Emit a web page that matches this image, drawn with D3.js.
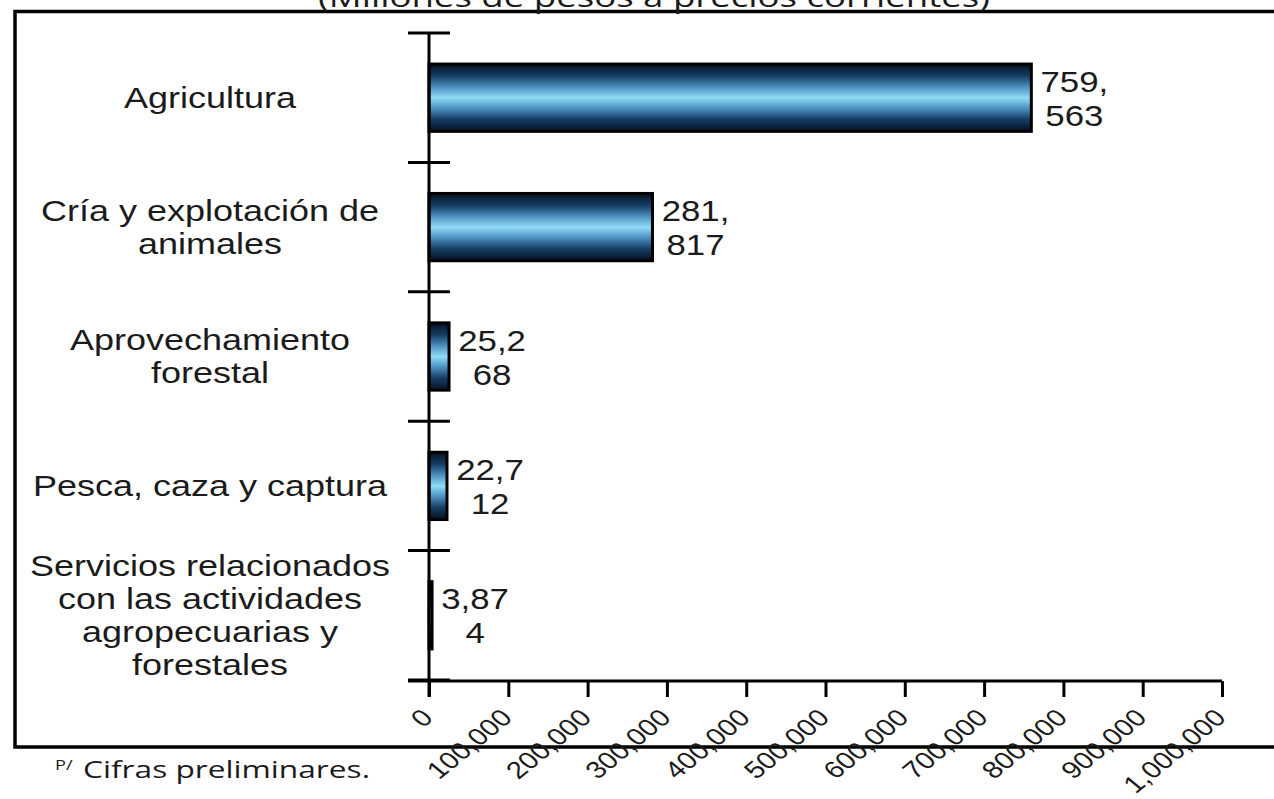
<!DOCTYPE html>
<html>
<head>
<meta charset="utf-8">
<script src="https://cdn.jsdelivr.net/npm/d3@7/dist/d3.min.js"></script>
<style>
  html, body { margin: 0; padding: 0; background: #fff; }
  svg { display: block; }
</style>
</head>
<body>
<svg id="chart" width="1274" height="799"></svg>
<script>
// ---- data ----
const categories = [
  ["Agricultura"],
  ["Cría y explotación de", "animales"],
  ["Aprovechamiento", "forestal"],
  ["Pesca, caza y captura"],
  ["Servicios relacionados", "con las actividades", "agropecuarias y", "forestales"]
];
const values = [759563, 281817, 25268, 22712, 3874];
const xTicks = [0, 100000, 200000, 300000, 400000, 500000, 600000, 700000, 800000, 900000, 1000000];
const titleText = "(Millones de pesos a precios corrientes)";
const footnoteMark = "P/";
const footnoteText = "Cifras preliminares.";

// ---- layout ----
const svg = d3.select("#chart");
const ink = "#1b1b1b";
const x = d3.scaleLinear().domain([0, 1000000]).range([429, 1222]);
const keys = categories.map((c, i) => i);
const y = d3.scaleBand().domain(keys).range([33, 680]).paddingInner(0.48).paddingOuter(0.24);
const step = y.step();
const bandStart = i => y(i) - y.paddingOuter() * step;

// gradient
const defs = svg.append("defs");
const grad = defs.append("linearGradient").attr("id", "barGrad")
  .attr("x1", 0).attr("y1", 0).attr("x2", 0).attr("y2", 1);
[[0, "#06101f"], [0.18, "#163e66"], [0.35, "#4f95c4"], [0.5, "#90dbf6"], [0.65, "#4f95c4"], [0.82, "#163e66"], [1, "#06101f"]]
  .forEach(([o, c]) => grad.append("stop").attr("offset", o).attr("stop-color", c));

// outer border (right side runs off the picture)
svg.append("path")
  .attr("d", "M1290,11.5 H15 V747 H1290")
  .attr("fill", "none").attr("stroke", "#000").attr("stroke-width", 3.5);

// title (clipped at top, as in the reference)
svg.append("text")
  .attr("x", 318).attr("y", 7)
  .attr("font-family", "'Open Sans', sans-serif").attr("font-size", 27)
  .attr("fill", ink)
  .attr("textLength", 672).attr("lengthAdjust", "spacingAndGlyphs")
  .text(titleText);

// bars
svg.append("g").selectAll("rect").data(values).join("rect")
  .attr("x", x(0))
  .attr("y", (d, i) => y(i))
  .attr("width", d => x(d) - x(0))
  .attr("height", y.bandwidth())
  .attr("fill", "url(#barGrad)")
  .attr("stroke", "#000").attr("stroke-width", 3);

// y axis line
svg.append("line")
  .attr("x1", x(0)).attr("x2", x(0)).attr("y1", 33).attr("y2", 697)
  .attr("stroke", "#000").attr("stroke-width", 3);
// category tick marks at band boundaries
const bounds = d3.range(categories.length + 1).map(i => 33 + i * step);
svg.append("g").selectAll("line").data(bounds).join("line")
  .attr("x1", 408).attr("x2", 450)
  .attr("y1", d => d).attr("y2", d => d)
  .attr("stroke", "#000").attr("stroke-width", 3);

// x axis
const xAxis = d3.axisBottom(x).tickValues(xTicks).tickSize(16).tickFormat(d3.format(","));
const gx = svg.append("g").attr("transform", "translate(0,681)").call(xAxis);
gx.select(".domain").attr("d", `M408,0H${x(1000000)}`).attr("stroke", "#000").attr("stroke-width", 3);
gx.selectAll(".tick line").attr("stroke", "#000").attr("stroke-width", 3);
gx.selectAll(".tick text")
  .attr("font-family", "'Liberation Sans', Arial, sans-serif")
  .attr("font-size", 24).attr("fill", ink)
  .attr("text-anchor", "end")
  .attr("x", 0).attr("y", 0).attr("dy", 0)
  .attr("transform", "translate(5,38) scale(1.22,1) rotate(-45)");

// category labels
const catG = svg.append("g")
  .attr("font-family", "'Liberation Sans', Arial, sans-serif")
  .attr("font-size", 30).attr("fill", ink);
categories.forEach((lines, i) => {
  const c = bandStart(i) + step / 2;
  const lh = 33;
  lines.forEach((t, j) => {
    const by = c + 10 + (j - (lines.length - 1) / 2) * lh;
    catG.append("text")
      .attr("text-anchor", "middle")
      .attr("transform", `translate(210,${by}) scale(1.2,1)`)
      .text(t);
  });
});

// value labels (wrapped after 4 characters)
const fmt = d3.format(",");
const valG = svg.append("g")
  .attr("font-family", "'Liberation Sans', Arial, sans-serif")
  .attr("font-size", 29).attr("fill", ink);
values.forEach((v, i) => {
  const s = fmt(v);
  const parts = [s.slice(0, 4), s.slice(4)];
  const c = bandStart(i) + step / 2;
  parts.forEach((t, j) => {
    valG.append("text")
      .attr("text-anchor", "middle")
      .attr("transform", `translate(${x(v) + 43},${c - 6 + j * 34}) scale(1.2,1)`)
      .text(t);
  });
});

// footnote
svg.append("text")
  .attr("transform", "translate(55,770) scale(1.3,1)")
  .attr("font-family", "'Open Sans', sans-serif").attr("font-size", 14)
  .attr("fill", ink).text(footnoteMark);
svg.append("text")
  .attr("x", 83).attr("y", 778)
  .attr("font-family", "'Open Sans', sans-serif").attr("font-size", 24)
  .attr("fill", ink)
  .attr("textLength", 287).attr("lengthAdjust", "spacingAndGlyphs")
  .text(footnoteText);
</script>
</body>
</html>
